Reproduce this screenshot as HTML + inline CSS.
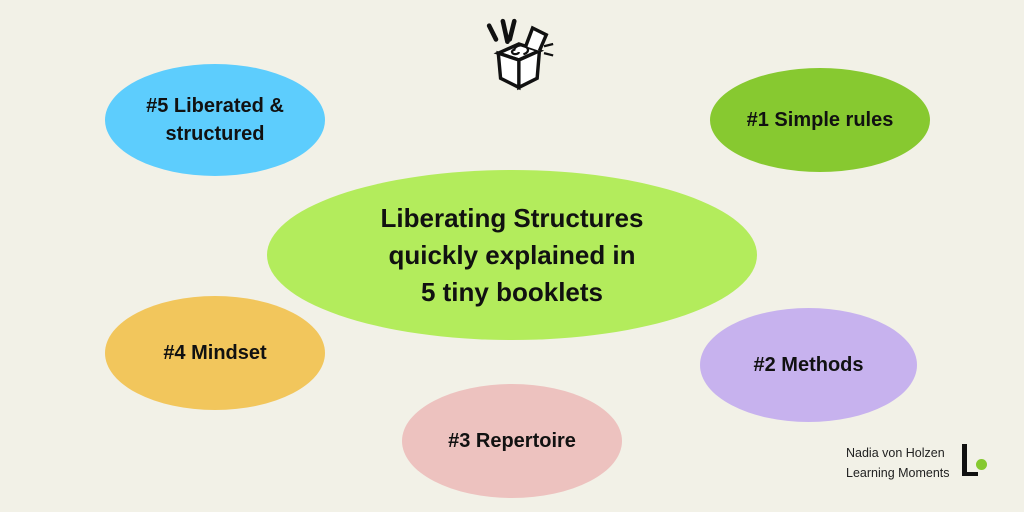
<!DOCTYPE html>
<html><head><style>
body{margin:0;width:1024px;height:512px;background:#f2f1e7;overflow:hidden;position:relative;font-family:"Liberation Sans",sans-serif}
.e{position:absolute;border-radius:50%;display:flex;align-items:center;justify-content:center;text-align:center;font-weight:bold;color:#111;font-size:20px;line-height:28px}
</style></head><body>
<div class="e" style="left:105px;top:64px;width:220px;height:112px;background:#5dcdfd">#5 Liberated &amp;<br>structured</div>
<div class="e" style="left:710px;top:68px;width:220px;height:104px;background:#87c930">#1 Simple rules</div>
<div class="e" style="left:267px;top:170px;width:490px;height:170px;background:#b3ec5c;font-size:26px;line-height:37px">Liberating Structures<br>quickly explained in<br>5 tiny booklets</div>
<div class="e" style="left:105px;top:296px;width:220px;height:114px;background:#f2c65c">#4 Mindset</div>
<div class="e" style="left:700px;top:308px;width:217px;height:114px;background:#c7b2ee">#2 Methods</div>
<div class="e" style="left:402px;top:384px;width:220px;height:114px;background:#edc2bf">#3 Repertoire</div>
<svg style="position:absolute;left:480px;top:12px" width="80" height="80" viewBox="0 0 70 70">
<path d="M8 12 L14 24 M20 8 L24 26 M30 8 L26 24" stroke="#111" stroke-width="4" stroke-linecap="round" fill="none"/>
<path d="M16 36 L34 28 L52 34 L34 42 Z" fill="#fff" stroke="#111" stroke-width="3"/>
<path d="M16 36 L18 58 L34 66 L34 42 Z M34 42 L34 66 L50 58 L52 34 Z" fill="#fff" stroke="#111" stroke-width="3"/>
<path d="M40 30 L46 14 L58 20 L52 34" fill="#fff" stroke="#111" stroke-width="3"/>
<path d="M34 35 a3 2 0 1 1 -4 -2 a6 4 0 1 1 8 4" stroke="#111" stroke-width="2" fill="none"/>
<path d="M56 30 L64 28 M56 36 L64 38" stroke="#111" stroke-width="2"/>
</svg>
<div style="position:absolute;left:846px;top:443px;font-size:12.5px;line-height:20px;color:#222">Nadia von Holzen<br>Learning Moments</div>
<div style="position:absolute;left:962px;top:444px;width:5px;height:32px;background:#111"></div>
<div style="position:absolute;left:962px;top:472px;width:16px;height:4px;background:#111"></div>
<div style="position:absolute;left:976px;top:459px;width:11px;height:11px;border-radius:50%;background:#86c92f"></div>
</body></html>
